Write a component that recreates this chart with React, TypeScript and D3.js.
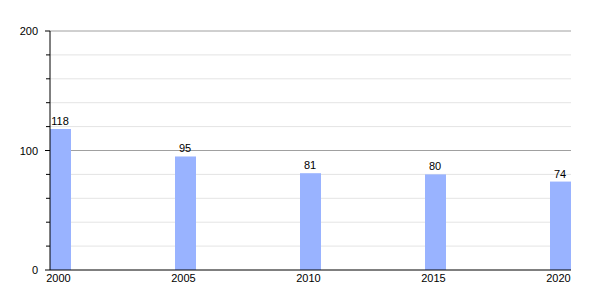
import React from "react";
import * as d3 from "d3";

const years = [2000, 2005, 2010, 2015, 2020];
const values = [118, 95, 81, 80, 74];
const majorTicks = [0, 100, 200];
const minorTicks = [20, 40, 60, 80, 120, 140, 160, 180];

export default function App() {
  const W = 600, H = 300;
  const left = 50, right = 571, top = 31, bottom = 270;
  const barW = 21;
  const x = d3.scaleLinear().domain([2000, 2020]).range([left, right - barW]);
  const y = d3.scaleLinear().domain([0, 200]).range([bottom, top]);
  const font = "'Liberation Sans', Arial, sans-serif";
  return (
    <svg width={W} height={H} style={{ position: "absolute", left: 0, top: 0 }}>
      <rect width={W} height={H} fill="#fff" />
      {minorTicks.map((t) => (
        <g key={"m" + t}>
          <line x1={left} x2={right} y1={y(t)} y2={y(t)} stroke="#e4e4e4" strokeWidth={1} />
          <line x1={left - 4} x2={left} y1={y(t)} y2={y(t)} stroke="#000" strokeWidth={1} />
        </g>
      ))}
      {majorTicks.map((t) => (
        <g key={"M" + t}>
          {t > 0 && <line x1={left} x2={right} y1={y(t)} y2={y(t)} stroke="#a0a0a0" strokeWidth={1} />}
          <line x1={left - 5} x2={left} y1={y(t)} y2={y(t)} stroke="#000" strokeWidth={1} />
          <text x={38} y={y(t) + 4} textAnchor="end" fontSize={11} fontFamily={font} fill="#000">
            {t}
          </text>
        </g>
      ))}
      {years.map((yr, i) => (
        <g key={yr}>
          <rect x={x(yr)} y={y(values[i])} width={barW} height={bottom - y(values[i])} fill="#99b3ff" />
          <text x={x(yr) + barW / 2 - 0.5} y={y(values[i]) - 4} textAnchor="middle" fontSize={11} fontFamily={font} fill="#000">
            {values[i]}
          </text>
          <text x={x(yr) + barW / 2 - 2} y={282} textAnchor="middle" fontSize={11} fontFamily={font} fill="#000">
            {yr}
          </text>
        </g>
      ))}
      <line x1={left} x2={left} y1={top} y2={bottom} stroke="#000" strokeWidth={1} />
      <line x1={left} x2={right} y1={bottom} y2={bottom} stroke="#000" strokeWidth={1} />
    </svg>
  );
}
